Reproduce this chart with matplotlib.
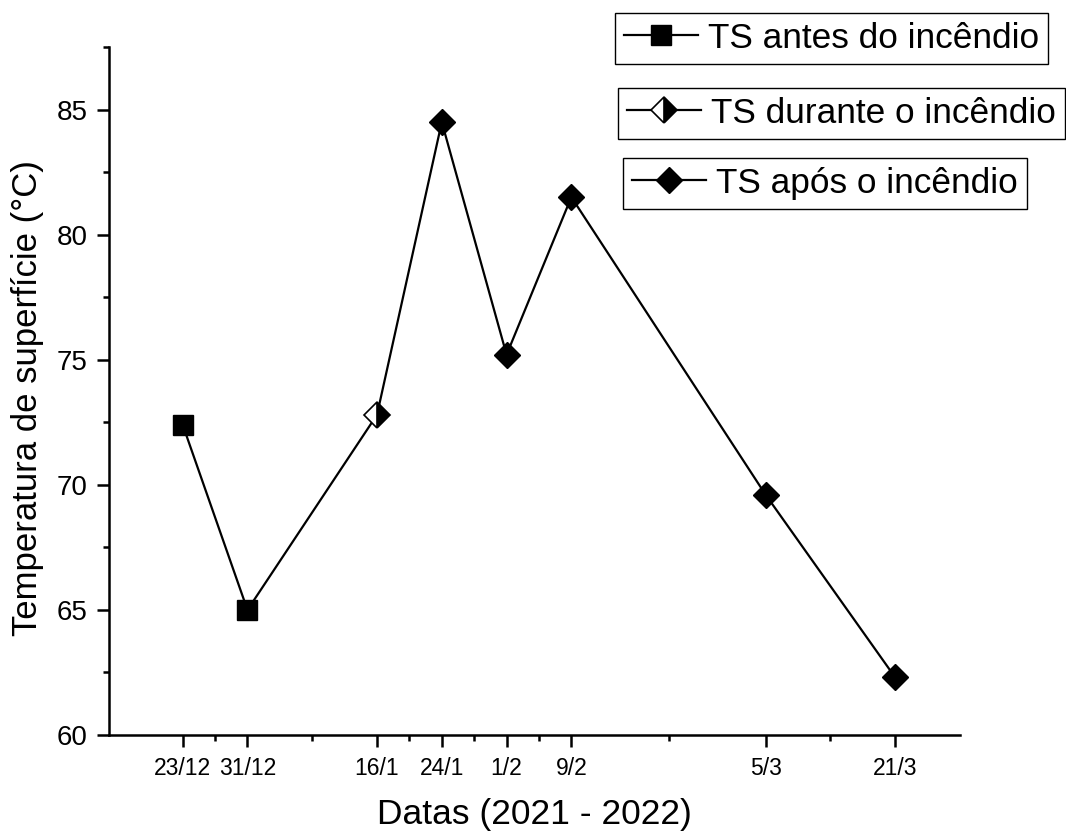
import numpy as np
import matplotlib
matplotlib.use('Agg')
import matplotlib.pyplot as plt
from matplotlib.lines import Line2D

plt.rcParams['font.family'] = ['Liberation Sans', 'DejaVu Sans']

# Dates (days after 23/12/2021) and surface temperature
date_labels = ['23/12', '31/12', '16/1', '24/1', '1/2', '9/2', '5/3', '21/3']
days        = [0, 8, 24, 32, 40, 48, 72, 88]
ts          = [72.4, 65.0, 72.8, 84.5, 75.2, 81.5, 69.6, 62.3]

# index groups: before / during / after the fire
idx_antes   = [0, 1]
idx_durante = [2]
idx_apos    = [3, 4, 5, 6, 7]

legend_labels = ['TS antes do incêndio', 'TS durante o incêndio', 'TS após o incêndio']

fig = plt.figure(figsize=(10.66, 8.32), dpi=100)
ax = fig.add_axes([109/1066, 97/832, (960-109)/1066, (735-47)/832])

days = np.asarray(days)
ts = np.asarray(ts)

ax.plot(days, ts, '-', color='black', lw=1.6, zorder=2)
ax.plot(days[idx_antes], ts[idx_antes], 's', color='black', ms=14, zorder=3)
ax.plot(days[idx_durante], ts[idx_durante], 'D', color='black', ms=13,
        fillstyle='right', markerfacecoloralt='white', markeredgecolor='black',
        markeredgewidth=1.2, zorder=3)
ax.plot(days[idx_apos], ts[idx_apos], 'D', color='black', ms=13, zorder=3)

ax.set_xlim(-9.1, 96.0)
ax.set_ylim(60, 87.5)

ax.set_xticks(days)
ax.set_xticklabels(date_labels, fontsize=16.5)
ax.set_xticks((days[:-1] + days[1:]) / 2, minor=True)
ax.set_yticks([60, 65, 70, 75, 80, 85])
ax.set_yticks([62.5, 67.5, 72.5, 77.5, 82.5, 87.5], minor=True)
ax.tick_params(axis='y', labelsize=20)

ax.tick_params(which='major', direction='out', length=8.5, width=1.8,
               color='black', pad=7)
ax.tick_params(which='minor', direction='out', length=4.5, width=1.8, color='black')
ax.spines['top'].set_visible(False)
ax.spines['right'].set_visible(False)
for s in ['left', 'bottom']:
    ax.spines[s].set_linewidth(1.8)

ax.set_xlabel('Datas (2021 - 2022)', fontsize=25.5, labelpad=13)
ax.set_ylabel('Temperatura de superfície (°C)', fontsize=25)
ax.yaxis.set_label_coords(-0.076, 0.49)

# three separate legend boxes, as in the original
handles = [
    Line2D([], [], color='black', lw=1.6, marker='s', ms=14),
    Line2D([], [], color='black', lw=1.6, marker='D', ms=13, fillstyle='right',
           markerfacecoloralt='white', markeredgecolor='black', markeredgewidth=1.2),
    Line2D([], [], color='black', lw=1.6, marker='D', ms=13),
]
anchors = [(615/1066, 1-13/832), (618/1066, 1-88/832), (623/1066, 1-158/832)]
for h, lab, anc in zip(handles, legend_labels, anchors):
    leg = fig.legend([h], [lab], loc='upper left', bbox_to_anchor=anc,
                     bbox_transform=fig.transFigure, borderaxespad=0,
                     fontsize=25.4, fancybox=False, framealpha=1,
                     edgecolor='black', handlelength=2.1, handletextpad=0.3,
                     borderpad=0.25)
    leg.get_frame().set_linewidth(1.0)

fig.savefig('out.png', dpi=100)
